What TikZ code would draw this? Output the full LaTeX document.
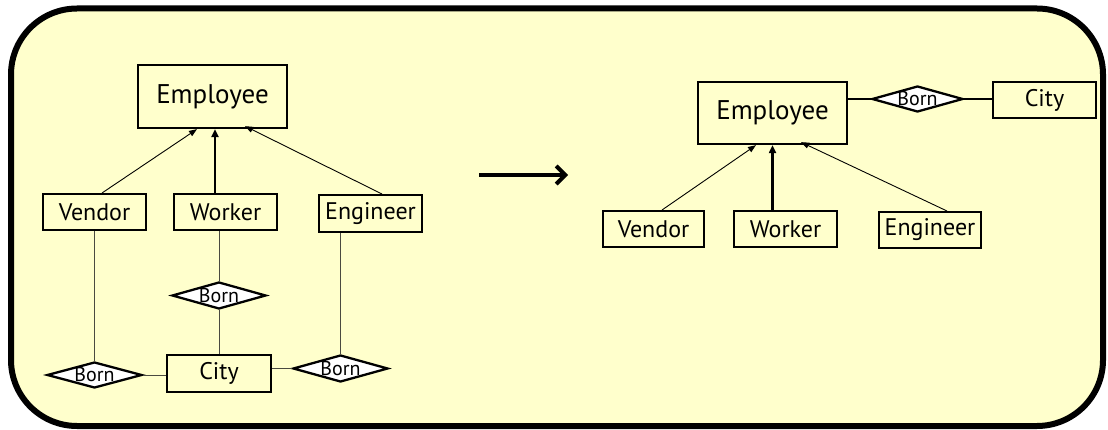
\documentclass[tikz,border=0pt]{standalone}
\usepackage{fontspec}
\setmainfont{PT Sans}
\usetikzlibrary{shapes.geometric,arrows.meta}
\definecolor{paper}{HTML}{FFFFCC}
\definecolor{linkgray}{HTML}{4A4A40}
\tikzset{
  entity/.style={draw=black, line width=2pt, fill=paper, inner sep=0pt,
    minimum width=103pt, minimum height=36pt, font=\fontsize{24}{27}\selectfont},
  bigentity/.style={entity, line width=2.3pt, minimum width=149pt, minimum height=63pt,
    font=\fontsize{27}{31}\selectfont},
  relation/.style={diamond, draw=black, line width=2.3pt, fill=white, inner sep=0pt,
    minimum width=95pt, minimum height=26pt,
    label={[font=\fontsize{20}{23}\selectfont, inner sep=0pt]center:Born}},
  isa/.style={draw=black, line width=0.9pt, -{Triangle[length=8pt,width=6pt]}},
  isabold/.style={isa, line width=2.2pt, -{Triangle[length=8pt,width=7pt]}},
  thinlink/.style={draw=linkgray, line width=1pt},
  boldlink/.style={draw=black, line width=2.6pt},
}
\begin{document}
\begin{tikzpicture}[x=1pt, y=-1pt]
  \useasboundingbox (0,0) rectangle (1108,430);
  % framed background panel
  \draw[line width=6pt, fill=paper, rounded corners=66pt] (11,8.5) rectangle (1103,426);

  % ---- before: each subclass has its own Born relationship ----
  \node[bigentity] (E1) at (212.5,96.5) {Employee};
  \node[entity] (V1) at (94.5,212) {Vendor};
  \node[entity] (W1) at (225.5,212) {Worker};
  \node[entity, minimum height=37pt] (G1) at (370.5,213.5) {Engineer};
  \node[relation] (B1) at (94.5,375) {};
  \node[relation, minimum width=94pt, minimum height=27pt] (B2) at (219,295.5) {};
  \node[relation, minimum height=27pt] (B3) at (340.5,368.5) {};
  \node[entity, minimum width=104pt, minimum height=37pt] (C1) at (219,373.5) {City};

  \draw[isa] ([xshift=7.5pt]V1.north) -- ([xshift=-15.5pt]E1.south);
  \draw[isabold] (W1.north -| 215,0) -- (E1.south -| 215,0);
  \draw[isa] ([xshift=11.5pt]G1.north) -- ([xshift=32.5pt,yshift=3pt]E1.south);

  \draw[thinlink] (V1) -- (B1);
  \draw[thinlink] (B2.north |- W1.south) -- (B2.north);
  \draw[thinlink] (B2) -- (C1);
  \draw[thinlink] (B1.east) -- (C1.west |- B1.east);
  \draw[thinlink] (C1.east |- B3.west) -- (B3.west);
  \draw[thinlink] (B3.north |- G1.south) -- (B3.north);

  % ---- transformation arrow ----
  \coordinate (T0) at (479,175);
  \coordinate (T1) at (568,175);
  \draw[line width=4pt, -{Straight Barb[length=9pt,width=18pt]}] (T0) -- (T1);

  % ---- after: Born lifted to the superclass ----
  \node[bigentity, minimum height=62pt] (E2) at (772.5,113) {Employee};
  \node[entity, minimum width=101pt] (V2) at (653.5,229) {Vendor};
  \node[entity] (W2) at (785.5,229) {Worker};
  \node[entity, minimum width=102pt] (G2) at (930,230) {Engineer};
  \node[relation, minimum width=91pt] (B4) at (917.5,99) {};
  \node[entity] (C2) at (1044.5,100) {City};

  \draw[isa] ([xshift=8.5pt]V2.north) -- ([xshift=-16.5pt]E2.south);
  \draw[isabold] (W2.north -| E2.south) -- (E2.south);
  \draw[isa] ([xshift=17pt]G2.north) -- ([xshift=28.5pt,yshift=3pt]E2.south);

  \draw[boldlink] (E2.east |- B4.west) -- (B4.west);
  \draw[boldlink] (B4.east) -- (C2.west |- B4.east);
\end{tikzpicture}
\end{document}
